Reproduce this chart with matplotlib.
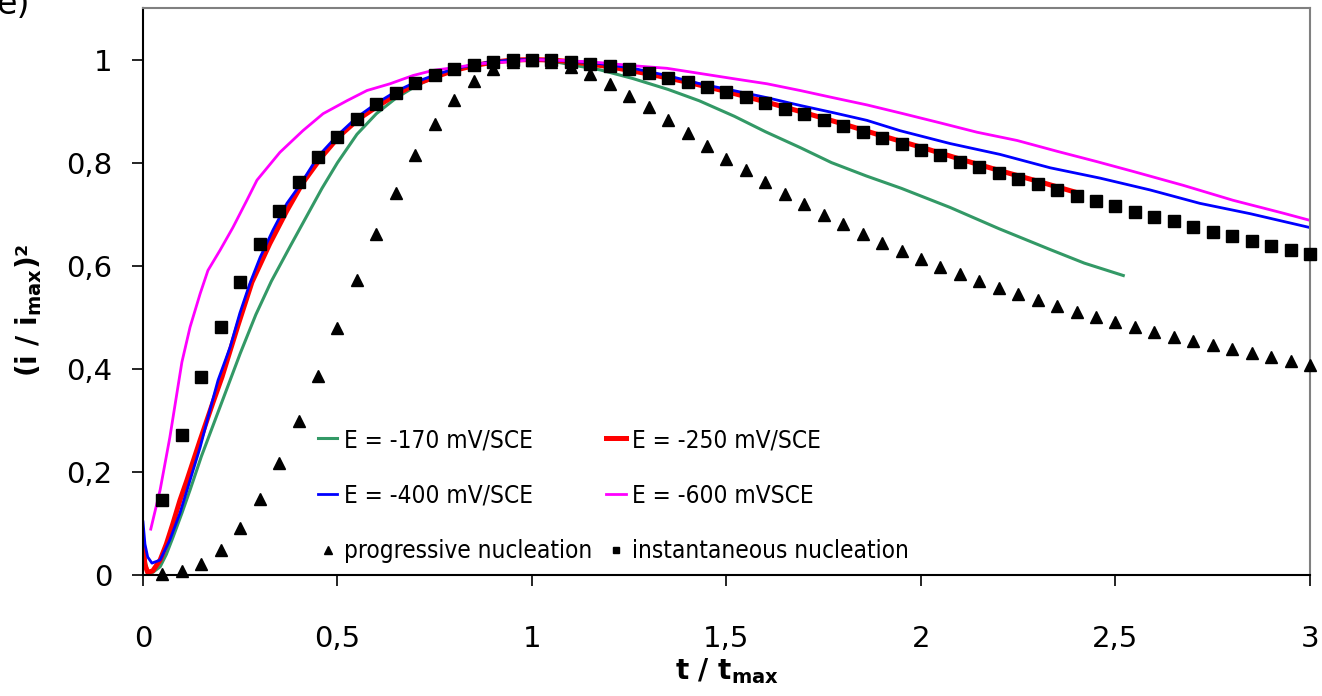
import os
import matplotlib
matplotlib.use("Agg")
import matplotlib.pyplot as plt
import matplotlib.font_manager as fm

# ---------------- data ----------------
x_theory = [0.05, 0.10, 0.15, 0.20, 0.25, 0.30, 0.35, 0.40, 0.45, 0.50,
            0.55, 0.60, 0.65, 0.70, 0.75, 0.80, 0.85, 0.90, 0.95, 1.00,
            1.05, 1.10, 1.15, 1.20, 1.25, 1.30, 1.35, 1.40, 1.45, 1.50,
            1.55, 1.60, 1.65, 1.70, 1.75, 1.80, 1.85, 1.90, 1.95, 2.00,
            2.05, 2.10, 2.15, 2.20, 2.25, 2.30, 2.35, 2.40, 2.45, 2.50,
            2.55, 2.60, 2.65, 2.70, 2.75, 2.80, 2.85, 2.90, 2.95, 3.00]

y_progressive = [0.001, 0.007, 0.021, 0.049, 0.091, 0.147, 0.217, 0.298, 0.387, 0.480,
                 0.572, 0.661, 0.742, 0.814, 0.874, 0.922, 0.958, 0.982, 0.996, 1.000,
                 0.996, 0.986, 0.971, 0.952, 0.930, 0.907, 0.882, 0.857, 0.833, 0.808,
                 0.785, 0.762, 0.740, 0.719, 0.699, 0.680, 0.662, 0.645, 0.628, 0.613,
                 0.598, 0.584, 0.570, 0.557, 0.545, 0.533, 0.521, 0.511, 0.500, 0.490,
                 0.481, 0.471, 0.462, 0.454, 0.446, 0.438, 0.430, 0.423, 0.415, 0.408]

y_instantaneous = [0.145, 0.272, 0.384, 0.482, 0.568, 0.642, 0.707, 0.762, 0.810, 0.850,
                   0.884, 0.913, 0.936, 0.955, 0.970, 0.982, 0.990, 0.996, 0.999, 1.000,
                   0.999, 0.996, 0.992, 0.987, 0.981, 0.973, 0.965, 0.956, 0.947, 0.937,
                   0.927, 0.916, 0.905, 0.894, 0.883, 0.871, 0.860, 0.848, 0.837, 0.825,
                   0.814, 0.802, 0.791, 0.780, 0.769, 0.758, 0.747, 0.736, 0.726, 0.716,
                   0.705, 0.695, 0.686, 0.676, 0.666, 0.657, 0.648, 0.639, 0.630, 0.622]

x_170 = [0.0, 0.005, 0.012, 0.025, 0.044, 0.06, 0.077, 0.10, 0.121, 0.15, 0.18, 0.21,
         0.25, 0.29, 0.33, 0.38, 0.42, 0.46, 0.50, 0.55, 0.60, 0.65, 0.70, 0.75, 0.80,
         0.85, 0.90, 0.95, 1.00, 1.05, 1.10, 1.175, 1.26, 1.35, 1.43, 1.52, 1.60, 1.69,
         1.77, 1.86, 1.95, 2.075, 2.20, 2.33, 2.42, 2.52]
y_170 = [0.074, 0.030, 0.005, 0.005, 0.016, 0.040, 0.073, 0.120, 0.165, 0.230, 0.290, 0.350,
         0.430, 0.505, 0.570, 0.640, 0.695, 0.750, 0.800, 0.855, 0.895, 0.925, 0.948, 0.966, 0.978,
         0.988, 0.994, 0.998, 1.000, 0.997, 0.990, 0.980, 0.963, 0.942, 0.920, 0.890, 0.860, 0.829,
         0.800, 0.774, 0.750, 0.713, 0.672, 0.632, 0.605, 0.581]

x_250 = [0.0, 0.005, 0.012, 0.025, 0.044, 0.06, 0.077, 0.095, 0.113, 0.147, 0.18, 0.203,
         0.244, 0.28, 0.326, 0.37, 0.41, 0.46, 0.504, 0.553, 0.60, 0.65, 0.70, 0.75, 0.80,
         0.85, 0.90, 0.95, 1.00, 1.05, 1.10, 1.20, 1.30, 1.40, 1.50, 1.60, 1.70, 1.80, 1.90,
         2.00, 2.10, 2.20, 2.30, 2.40]
y_250 = [0.058, 0.020, 0.005, 0.008, 0.029, 0.060, 0.100, 0.145, 0.184, 0.262, 0.335, 0.384,
         0.484, 0.568, 0.643, 0.707, 0.760, 0.812, 0.851, 0.884, 0.908, 0.932, 0.952, 0.966, 0.979,
         0.988, 0.995, 0.999, 1.000, 0.999, 0.996, 0.986, 0.972, 0.956, 0.938, 0.918, 0.897, 0.875,
         0.852, 0.830, 0.807, 0.785, 0.764, 0.742]

x_400 = [0.0, 0.005, 0.012, 0.023, 0.044, 0.069, 0.095, 0.121, 0.147, 0.172, 0.193, 0.224,
         0.249, 0.275, 0.301, 0.334, 0.37, 0.404, 0.45, 0.50, 0.55, 0.60, 0.65, 0.70, 0.75,
         0.80, 0.85, 0.90, 0.95, 1.00, 1.05, 1.10, 1.175, 1.26, 1.347, 1.432, 1.517, 1.604,
         1.689, 1.774, 1.861, 1.946, 2.075, 2.203, 2.332, 2.46, 2.589, 2.717, 2.846, 3.0]
y_400 = [0.103, 0.060, 0.035, 0.023, 0.029, 0.068, 0.120, 0.184, 0.248, 0.320, 0.378, 0.442,
         0.508, 0.566, 0.616, 0.669, 0.721, 0.757, 0.812, 0.853, 0.888, 0.915, 0.938, 0.956, 0.970,
         0.982, 0.990, 0.996, 0.999, 1.000, 0.999, 0.997, 0.992, 0.983, 0.969, 0.953, 0.940, 0.926,
         0.911, 0.897, 0.882, 0.862, 0.837, 0.816, 0.790, 0.770, 0.747, 0.721, 0.701, 0.674]

x_600 = [0.02, 0.044, 0.069, 0.09, 0.10, 0.121, 0.147, 0.167, 0.198, 0.231, 0.267, 0.293,
         0.352, 0.411, 0.463, 0.524, 0.576, 0.635, 0.694, 0.746, 0.807, 0.866, 0.951, 1.0,
         1.09, 1.175, 1.26, 1.347, 1.432, 1.517, 1.604, 1.689, 1.774, 1.861, 1.954, 2.05,
         2.144, 2.247, 2.35, 2.452, 2.545, 2.674, 2.802, 2.931, 3.0]
y_600 = [0.089, 0.165, 0.267, 0.366, 0.413, 0.481, 0.546, 0.591, 0.630, 0.674, 0.727, 0.766,
         0.820, 0.862, 0.895, 0.920, 0.940, 0.953, 0.969, 0.979, 0.985, 0.992, 0.996, 1.000,
         0.998, 0.994, 0.988, 0.983, 0.973, 0.963, 0.953, 0.940, 0.926, 0.912, 0.895, 0.877,
         0.859, 0.843, 0.822, 0.802, 0.783, 0.756, 0.727, 0.702, 0.688]

labels = ["E = -170 mV/SCE", "E = -250 mV/SCE", "E = -400 mV/SCE", "E = -600 mVSCE",
          "progressive nucleation", "instantaneous nucleation"]
xticks = [0, 0.5, 1, 1.5, 2, 2.5, 3]
xticklabels = ["0", "0,5", "1", "1,5", "2", "2,5", "3"]
yticks = [0, 0.2, 0.4, 0.6, 0.8, 1.0]
yticklabels = ["0", "0,2", "0,4", "0,6", "0,8", "1"]

# ---------------- font for the legend (narrow if available) ----------------
narrow_path = None
for f in fm.fontManager.ttflist:
    n = os.path.basename(f.fname).lower()
    if ("narrow" in n or "condensed" in n) and not any(k in n for k in ("bold", "italic", "oblique")):
        narrow_path = f.fname
        break
if narrow_path:
    leg_prop = fm.FontProperties(fname=narrow_path, size=17.5)
else:
    leg_prop = fm.FontProperties(family="Liberation Sans", size=15.5)

# ---------------- figure ----------------
W, H = 1322, 696
fig = plt.figure(figsize=(W / 100, H / 100), dpi=100)
ax = fig.add_axes([143 / W, 121 / H, 1167 / W, 567 / H])

l170, = ax.plot(x_170, y_170, color="#339966", lw=2.2)
l250, = ax.plot(x_250, y_250, color="#FF0000", lw=3.6)
l400, = ax.plot(x_400, y_400, color="#0000FF", lw=2.0)
l600, = ax.plot(x_600, y_600, color="#FF00FF", lw=2.0)
lp, = ax.plot(x_theory, y_progressive, ls="none", marker="^", ms=9, color="black", clip_on=False, zorder=5)
li, = ax.plot(x_theory, y_instantaneous, ls="none", marker="s", ms=8, color="black", clip_on=False, zorder=5)

ax.set_xlim(0, 3)
ax.set_ylim(0, 1.1)
ax.set_xticks(xticks)
ax.set_xticklabels(xticklabels)
ax.set_yticks(yticks)
ax.set_yticklabels(yticklabels)
ax.tick_params(axis="both", direction="out", length=8, width=1.2, labelsize=21)
ax.tick_params(axis="x", pad=28)
ax.tick_params(axis="y", pad=14)

for s in ["top", "right"]:
    ax.spines[s].set_color("#808080")
    ax.spines[s].set_linewidth(1.5)
for s in ["left", "bottom"]:
    ax.spines[s].set_color("black")
    ax.spines[s].set_linewidth(1.5)

ax.set_xlabel(r"t / t$_{\mathbf{max}}$", fontsize=20, fontweight="bold")
ax.xaxis.set_label_coords((727 - 143) / 1167, -(656 - 575) / 567)
ax.set_ylabel(r"(i / i$_{\mathbf{max}}$)²", fontsize=20, fontweight="bold")
ax.yaxis.set_label_coords((44 - 143) / 1167, (575 - 310) / 567)

handles = [l170, l400, lp, l250, l600, li]
hl = [labels[0], labels[2], labels[4], labels[1], labels[3], labels[5]]
leg = ax.legend(handles, hl, ncol=2, frameon=False, loc="upper left",
                bbox_to_anchor=((318 - 143) / 1167, (575 - 428) / 567),
                borderpad=0, borderaxespad=0, handlelength=0.8, handletextpad=0.25,
                columnspacing=0.6, labelspacing=1.3, markerscale=0.6,
                prop=leg_prop)

fig.text(-4 / W, 1 - 14 / H, "e)", fontsize=24, va="baseline", ha="left")

fig.savefig("out.png", dpi=100)
